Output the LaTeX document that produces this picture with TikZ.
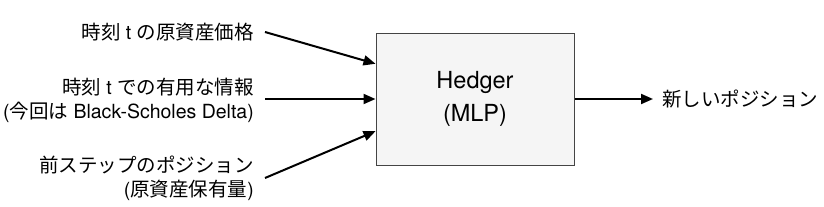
\documentclass[tikz,border=0pt]{standalone}
\usepackage{fontspec}
\setmainfont{TeX Gyre Heros}
\newfontfamily\cjk{Noto Sans CJK JP}
\usetikzlibrary{arrows.meta,calc}
\definecolor{boxfill}{HTML}{F5F5F5}
\definecolor{boxline}{HTML}{444444}
\begin{document}
\begin{tikzpicture}[x=1pt,y=-1pt,
  lbl/.style={inner sep=0pt,align=right,font=\fontsize{19.5}{24}\selectfont},
  arr/.style={line width=2pt,-{Triangle[length=12pt,width=10pt]}},
  hbox/.style={draw=boxline,fill=boxfill,line width=1pt,minimum width=198pt,minimum height=132pt,align=center,font=\fontsize{23.5}{33}\selectfont}]
\useasboundingbox (0,0) rectangle (824,206);
\node[hbox] (box) at (475,99) {Hedger\\(MLP)};
\node[lbl,anchor=east] (t1) at (254,32) {{\cjk 時刻} t {\cjk の原資産価格}};
\node[lbl,anchor=east] (t2) at (254,100) {{\cjk 時刻} t {\cjk での有用な情報}\\({\cjk 今回は} Black-Scholes Delta)};
\node[lbl,anchor=east] (t3) at (254,178) {{\cjk 前ステップのポジション}\\({\cjk 原資産保有量})};
\node[lbl,anchor=west] (out) at (662,99) {\cjk 新しいポジション};
\coordinate (s1) at (265,32);
\coordinate (s2) at (265,99);
\coordinate (s3) at (265,178);
\coordinate (e1) at ($(box.north west)!0.235!(box.south west)$);
\coordinate (e3) at ($(box.north west)!0.742!(box.south west)$);
\coordinate (o) at (653,99);
\draw[arr] (s1) -- (e1);
\draw[arr] (s2) -- (box.west);
\draw[arr] (s3) -- (e3);
\draw[arr] (box.east) -- (o);
\end{tikzpicture}
\end{document}
